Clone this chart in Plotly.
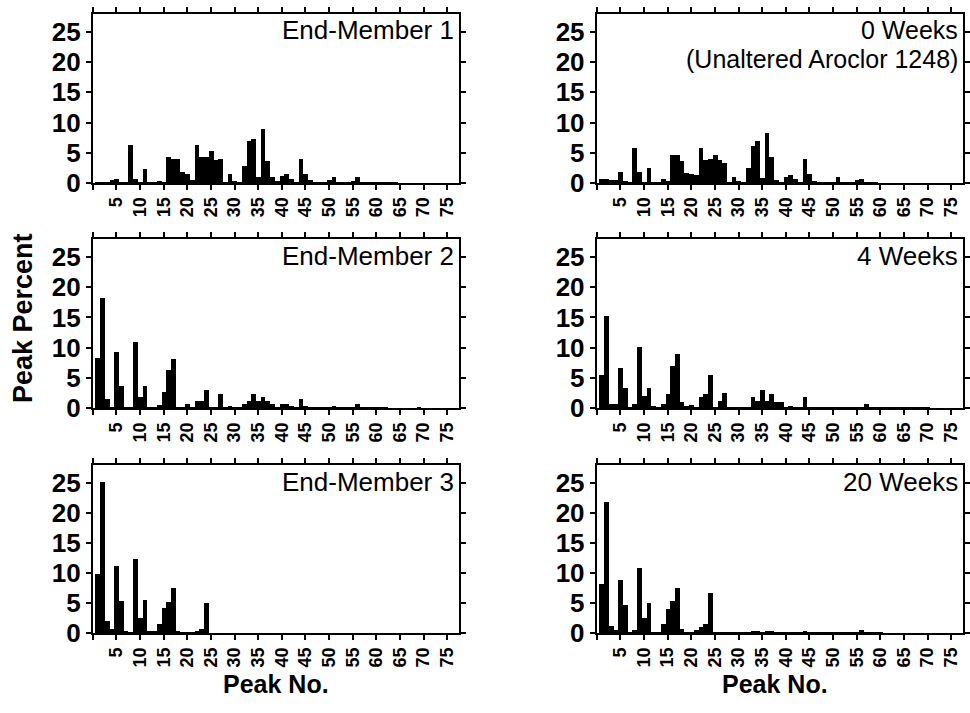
import plotly.graph_objects as go

W, H = 970, 713

peaks = list(range(1, 78))

end_member_1 = [0.1, 0.1, 0.2, 0.5, 0.8, 0.1, 0.1, 6.3, 0.8, 0.1,
                2.3, 0.1, 0.1, 0.4, 0.2, 4.4, 4.0, 4.0, 1.9, 1.6,
                0.6, 6.3, 4.3, 4.4, 5.3, 3.9, 4.0, 0.3, 1.5, 0.4,
                0.1, 2.9, 7.0, 7.4, 1.1, 9.0, 3.7, 1.1, 0.4, 1.3,
                1.5, 0.7, 0.3, 4.0, 1.5, 0.5, 0.2, 0.1, 0.2, 0.5,
                1.1, 0.2, 0.2, 0.3, 0.4, 1.1, 0.2, 0.2, 0.1, 0.1,
                0.1, 0.1, 0.1, 0.1, 0.0, 0.0, 0.0, 0.0, 0.0, 0.0,
                0.0, 0.0, 0.0, 0.0, 0.0, 0.0, 0.0]

weeks_0 = [0.8, 0.8, 0.5, 0.5, 1.9, 0.4, 0.2, 5.9, 1.8, 0.3,
           2.6, 0.1, 0.1, 0.8, 0.4, 4.7, 4.7, 3.7, 1.7, 1.5,
           1.4, 5.9, 3.8, 4.0, 4.7, 3.8, 3.3, 0.3, 1.1, 0.4,
           0.2, 2.5, 6.2, 7.0, 0.9, 8.3, 4.4, 0.6, 0.2, 1.1,
           1.4, 0.8, 0.3, 4.0, 1.5, 0.4, 0.2, 0.1, 0.1, 0.3,
           1.1, 0.2, 0.2, 0.3, 0.5, 0.8, 0.1, 0.1, 0.1, 0.0,
           0.0, 0.0, 0.0, 0.0, 0.0, 0.0, 0.0, 0.0, 0.0, 0.0,
           0.0, 0.0, 0.0, 0.0, 0.0, 0.0, 0.0]

end_member_2 = [8.3, 18.2, 1.5, 0.3, 9.4, 3.7, 0.3, 0.2, 10.9, 1.9,
                3.7, 0.3, 0.3, 0.6, 2.7, 6.3, 8.2, 0.2, 0.1, 0.7,
                0.2, 1.2, 1.2, 3.1, 0.3, 0.3, 2.3, 0.2, 0.4, 0.2,
                0.2, 0.8, 1.2, 2.3, 1.2, 1.9, 1.2, 0.8, 0.3, 0.7,
                0.7, 0.4, 0.2, 1.5, 0.4, 0.2, 0.2, 0.2, 0.2, 0.2,
                0.4, 0.2, 0.2, 0.2, 0.2, 0.8, 0.2, 0.1, 0.1, 0.1,
                0.1, 0.1, 0.0, 0.0, 0.0, 0.0, 0.0, 0.0, 0.3, 0.0,
                0.0, 0.0, 0.0, 0.0, 0.0, 0.0, 0.0]

weeks_4 = [5.5, 15.3, 0.8, 0.8, 6.6, 3.4, 0.3, 0.8, 10.1, 2.0,
           3.4, 0.4, 0.3, 0.8, 2.3, 7.0, 9.0, 1.1, 0.4, 0.6,
           0.2, 1.9, 2.3, 5.5, 0.3, 1.2, 2.6, 0.3, 0.3, 0.3,
           0.1, 0.1, 1.8, 1.2, 3.0, 1.2, 2.3, 1.1, 1.0, 0.2,
           0.4, 0.3, 0.3, 1.9, 0.3, 0.3, 0.3, 0.1, 0.1, 0.1,
           0.3, 0.1, 0.1, 0.1, 0.3, 0.3, 0.8, 0.1, 0.1, 0.1,
           0.1, 0.1, 0.1, 0.1, 0.1, 0.1, 0.1, 0.1, 0.3, 0.1,
           0.0, 0.0, 0.0, 0.0, 0.0, 0.0, 0.0]

end_member_3 = [9.8, 25.2, 2.1, 0.7, 11.2, 5.4, 0.4, 0.1, 12.3, 2.5,
                5.6, 0.4, 0.4, 1.5, 4.3, 5.3, 7.5, 0.4, 0.1, 0.1,
                0.2, 0.4, 0.7, 5.0, 0.0, 0.0, 0.0, 0.0, 0.0, 0.0,
                0.0, 0.0, 0.0, 0.0, 0.0, 0.0, 0.0, 0.0, 0.0, 0.0,
                0.0, 0.0, 0.0, 0.0, 0.0, 0.0, 0.0, 0.0, 0.0, 0.0,
                0.0, 0.0, 0.0, 0.0, 0.0, 0.0, 0.0, 0.0, 0.0, 0.0,
                0.0, 0.0, 0.0, 0.0, 0.0, 0.0, 0.0, 0.0, 0.0, 0.0,
                0.0, 0.0, 0.0, 0.0, 0.0, 0.0, 0.0]

weeks_20 = [8.2, 21.9, 1.3, 0.5, 8.9, 4.7, 0.3, 0.6, 10.8, 2.5,
            5.0, 0.3, 0.3, 1.5, 4.0, 5.4, 7.5, 0.7, 0.2, 0.2,
            0.5, 1.0, 1.5, 6.7, 0.3, 0.3, 0.3, 0.2, 0.2, 0.15,
            0.15, 0.2, 0.4, 0.4, 0.2, 0.4, 0.4, 0.15, 0.15, 0.15,
            0.3, 0.1, 0.1, 0.4, 0.1, 0.1, 0.1, 0.1, 0.1, 0.1,
            0.1, 0.1, 0.1, 0.1, 0.1, 0.5, 0.1, 0.1, 0.1, 0.1,
            0.0, 0.0, 0.0, 0.0, 0.0, 0.0, 0.0, 0.0, 0.0, 0.0,
            0.0, 0.0, 0.0, 0.0, 0.0, 0.0, 0.0]

panel_series = [end_member_1, weeks_0, end_member_2, weeks_4, end_member_3, weeks_20]
panel_labels = [["End-Member 1"], ["0 Weeks", "(Unaltered Aroclor 1248)"],
                ["End-Member 2"], ["4 Weeks"],
                ["End-Member 3"], ["20 Weeks"]]

x_tickvals = list(range(0, 80, 5))
x_ticktext = [""] + [str(v) for v in range(5, 80, 5)]
y_tickvals = [0, 5, 10, 15, 20, 25]
y_ticktext = ["0", "5", "10", "15", "20", "25"]

cols_px = [(93, 460), (598, 965)]
rows_px = [(14, 187), (244, 417), (475, 647)]

FONT = "Liberation Sans, Arial, sans-serif"

fig = go.Figure()
annotations = []

for i, vals in enumerate(panel_series):
    r, c = divmod(i, 2)
    n = i + 1
    xa = "x" if n == 1 else f"x{n}"
    ya = "y" if n == 1 else f"y{n}"
    fig.add_trace(go.Bar(x=peaks, y=vals, xaxis=xa, yaxis=ya,
                         marker=dict(color="black", line=dict(width=0)),
                         width=1.0, showlegend=False))
    x0, x1 = cols_px[c]
    top, bot = rows_px[r]
    xdom = [x0 / W, x1 / W]
    ydom = [1 - bot / H, 1 - top / H]
    xkey = "xaxis" if n == 1 else f"xaxis{n}"
    ykey = "yaxis" if n == 1 else f"yaxis{n}"
    fig.layout[xkey] = dict(domain=xdom, anchor=ya, range=[0, 77.5],
                            tickmode="array", tickvals=x_tickvals, ticktext=x_ticktext,
                            tickangle=-90, ticks="outside", ticklen=5, tickwidth=2,
                            tickcolor="black", showline=True, linecolor="black",
                            linewidth=2, mirror="ticks", showgrid=False, zeroline=False,
                            tickfont=dict(family=FONT, size=18, color="black", weight="bold"))
    fig.layout[ykey] = dict(domain=ydom, anchor=xa, range=[0, 28],
                            tickmode="array", tickvals=y_tickvals, ticktext=y_ticktext,
                            ticks="outside", ticklen=5, tickwidth=2, tickcolor="black",
                            showline=True, linecolor="black", linewidth=2, mirror="ticks",
                            showgrid=False, zeroline=False,
                            tickfont=dict(family=FONT, size=26, color="black", weight="bold"))
    lines = panel_labels[i]
    for k, line in enumerate(lines):
        size = 26 if len(lines) == 1 else 25
        annotations.append(dict(text=line, xref="paper", yref="paper",
                                x=(x1 - 3) / W, y=1 - (top + 17 + 29 * k) / H,
                                xanchor="right", yanchor="middle", showarrow=False,
                                font=dict(family=FONT, size=size, color="black")))

annotations.append(dict(text="Peak Percent", xref="paper", yref="paper",
                        x=23 / W, y=1 - 325 / H, textangle=-90,
                        xanchor="center", yanchor="middle", showarrow=False,
                        font=dict(family=FONT, size=27, color="black", weight="bold")))
for cx in (277, 777):
    annotations.append(dict(text="Peak No.", xref="paper", yref="paper",
                            x=cx / W, y=1 - 699 / H,
                            xanchor="center", yanchor="middle", showarrow=False,
                            font=dict(family=FONT, size=25, color="black", weight="bold")))

fig.update_layout(width=W, height=H, margin=dict(l=0, r=0, t=0, b=0),
                  paper_bgcolor="white", plot_bgcolor="white",
                  bargap=0, annotations=annotations)

fig.write_html("out.html", config={"displayModeBar": False},
               post_script="document.body.style.margin='0';document.body.style.overflow='hidden';")
